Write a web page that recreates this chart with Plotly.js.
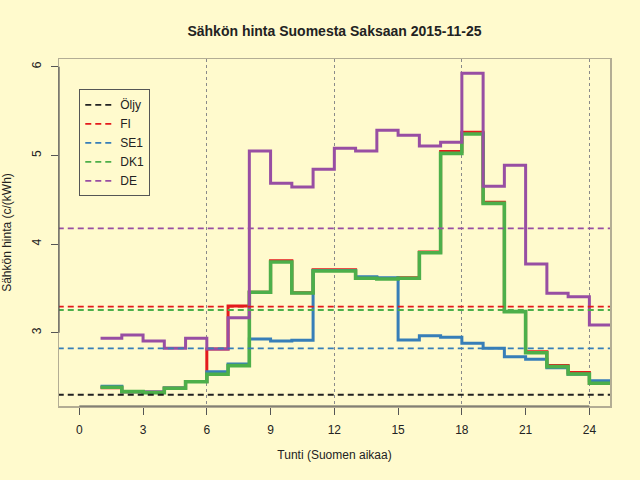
<!DOCTYPE html>
<html>
<head>
<meta charset="utf-8">
<script src="https://cdn.plot.ly/plotly-3.0.1.min.js"></script>
<style>
  html, body { margin: 0; padding: 0; background: #FFFACD; }
  #chart { width: 640px; height: 480px; }
</style>
</head>
<body>
<div id="chart"></div>
<script>
// hours 1..25, last value repeats hour 24 so the step reaches the edge
const hours = [1, 2, 3, 4, 5, 6, 7, 8, 9, 10, 11, 12, 13, 14, 15, 16, 17, 18, 19, 20, 21, 22, 23, 24, 25];

const fi  = [2.38, 2.335, 2.33, 2.375, 2.45, 2.816, 3.30, 3.456, 3.81, 3.45, 3.71, 3.71, 3.62, 3.61, 3.62, 3.91, 5.045, 5.262, 4.47, 3.24, 2.785, 2.63, 2.55, 2.43, 2.43];
const se1 = [2.395, 2.335, 2.33, 2.375, 2.45, 2.56, 2.647, 2.929, 2.906, 2.914, 3.70, 3.70, 3.631, 3.62, 2.918, 2.966, 2.948, 2.88, 2.824, 2.729, 2.70, 2.605, 2.53, 2.459, 2.459];
const dk1 = [2.384, 2.335, 2.323, 2.373, 2.447, 2.531, 2.628, 3.456, 3.797, 3.448, 3.696, 3.696, 3.614, 3.606, 3.614, 3.902, 5.023, 5.241, 4.459, 3.237, 2.774, 2.617, 2.534, 2.429, 2.429];
const de  = [2.937, 2.974, 2.906, 2.824, 2.937, 2.816, 3.169, 5.049, 4.685, 4.643, 4.843, 5.08, 5.049, 5.283, 5.226, 5.106, 5.147, 5.925, 4.651, 4.888, 3.775, 3.444, 3.406, 3.087, 3.087];

// daily reference levels (dashed lines)
const refNames  = ["Öljy", "FI", "SE1", "DK1", "DE"];
const refLevels = [2.30, 3.293, 2.824, 3.256, 4.177];
const refColors = ["#222222", "#E41A1C", "#377EB8", "#4DAF4A", "#984EA3"];

const xTicks = [0, 3, 6, 9, 12, 15, 18, 21, 24];
const yTicks = [3, 4, 5, 6];
const gridHours = [6, 12, 18, 24];
const xRange = [-0.955, 24.97];
const yRange = [2.173, 6.087];

const font = "Liberation Sans, Arial, Helvetica, sans-serif";

var steps = [
  {y: fi,  color: "#E41A1C", w: 3},
  {y: se1, color: "#377EB8", w: 3},
  {y: dk1, color: "#4DAF4A", w: 3.6},
  {y: de,  color: "#984EA3", w: 3}
];

var data = [];
steps.forEach(function (s) {
  data.push({
    x: hours, y: s.y,
    mode: "lines",
    line: {shape: "hv", color: s.color, width: s.w},
    showlegend: false,
    hoverinfo: "skip"
  });
});

for (var i = 0; i < refNames.length; i++) {
  data.push({
    x: [xRange[0] - 1, xRange[1] + 1],
    y: [refLevels[i], refLevels[i]],
    name: refNames[i],
    mode: "lines",
    line: {color: refColors[i], width: 1.8, dash: "6px,4px"},
    hoverinfo: "skip"
  });
}

// dotted vertical guides on their own overlaid axis
data.push({x: [xRange[0]], y: [yRange[0]], xaxis: "x2", mode: "markers",
  marker: {opacity: 0}, showlegend: false, hoverinfo: "skip"});

var layout = {
  width: 640, height: 480,
  paper_bgcolor: "#FFFACD",
  plot_bgcolor: "#FFFACD",
  font: {family: font, size: 12, color: "#222"},
  margin: {l: 59, r: 30, t: 59, b: 74},
  title: {
    text: "Sähkön hinta Suomesta Saksaan 2015-11-25",
    font: {family: font, size: 14, weight: "bold", color: "#222"},
    x: 0.5, xref: "paper", xanchor: "center",
    y: 1 - 31 / 480, yanchor: "middle"
  },
  xaxis: {
    range: xRange,
    tickvals: xTicks,
    ticks: "outside", ticklen: 7, tickcolor: "#555", tickwidth: 1,
    ticklabelstandoff: 5,
    showgrid: false, zeroline: false,
    showline: true, mirror: true, linecolor: "#B3AD94", linewidth: 1.5,
    title: {text: "Tunti (Suomen aikaa)", standoff: 14, font: {size: 12}}
  },
  xaxis2: {
    range: xRange,
    overlaying: "x",
    tickvals: gridHours,
    showticklabels: false, ticks: "",
    showgrid: true, gridcolor: "#8a8a8a", griddash: "dot", gridwidth: 1,
    zeroline: false, showline: false
  },
  yaxis: {
    range: yRange,
    tickvals: yTicks,
    tickangle: -90,
    ticks: "outside", ticklen: 7, tickcolor: "#555", tickwidth: 1,
    ticklabelstandoff: 5,
    showgrid: false, zeroline: false,
    showline: true, mirror: true, linecolor: "#B3AD94", linewidth: 1.5,
    title: {text: "Sähkön hinta (c/(kWh)", standoff: 16, font: {size: 12}}
  },
  legend: {
    x: 0.0368, y: 0.9127, xanchor: "left", yanchor: "top",
    bgcolor: "rgba(0,0,0,0)",
    bordercolor: "#555", borderwidth: 1,
    itemwidth: 30,
    font: {family: font, size: 12, color: "#222"}
  },
  shapes: [
    // R style axis lines running only between the outer ticks
    {type: "line", xref: "x", yref: "paper", x0: xTicks[0], x1: xTicks[xTicks.length - 1], y0: 0, y1: 0,
     line: {color: "#555", width: 1.2}},
    {type: "line", xref: "paper", yref: "y", x0: 0, x1: 0, y0: yTicks[0], y1: yTicks[yTicks.length - 1],
     line: {color: "#555", width: 1.2}}
  ]
};

Plotly.newPlot("chart", data, layout, {displayModeBar: false, staticPlot: true});
</script>
</body>
</html>
